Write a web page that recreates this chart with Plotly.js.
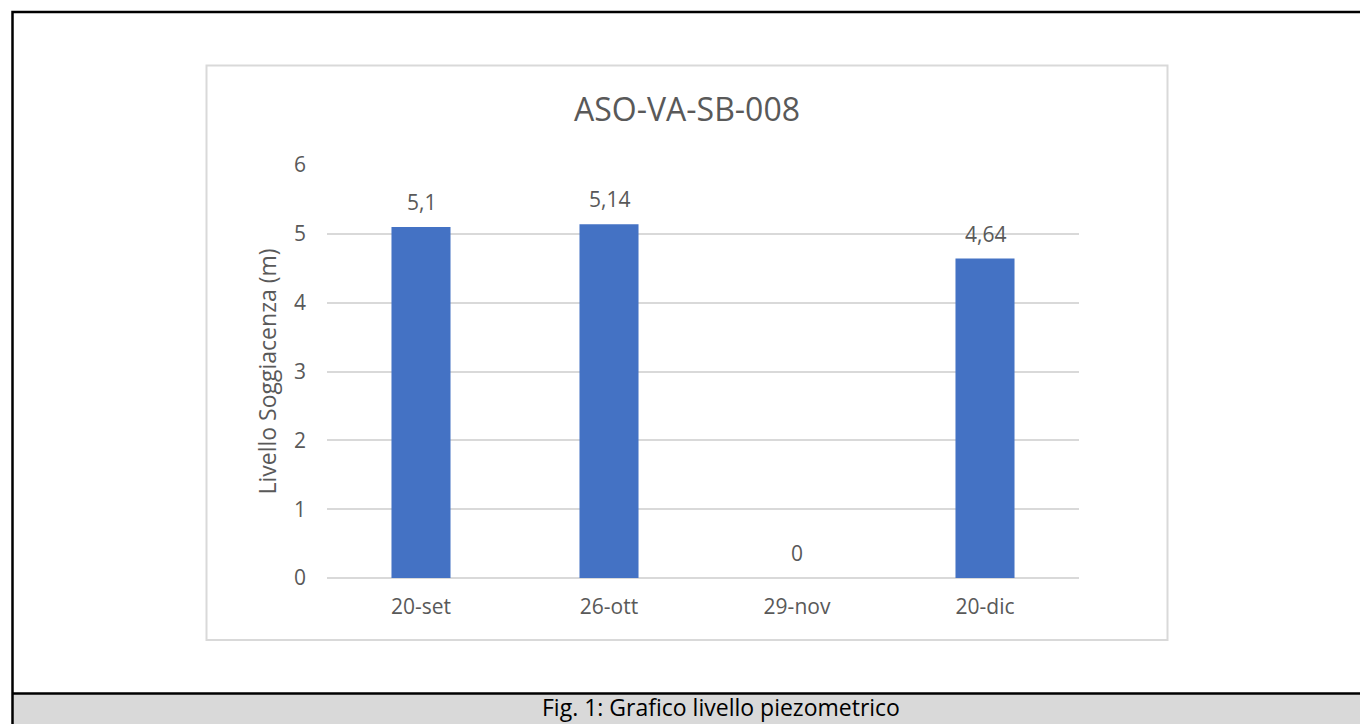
<!DOCTYPE html>
<html>
<head>
<meta charset="utf-8">
<script src="https://cdn.plot.ly/plotly-3.0.1.min.js"></script>
<style>
  html, body { margin: 0; padding: 0; background: #ffffff; }
  #chart { width: 1360px; height: 724px; }
</style>
</head>
<body>
<div id="chart"></div>
<script>
// ---- data ----
const categories = ["20-set", "26-ott", "29-nov", "20-dic"];
const livello = [5.1, 5.14, 0, 4.64];
const yTicks = [0, 1, 2, 3, 4, 5, 6];
const chartTitle = "ASO-VA-SB-008";
const yTitle = "Livello Soggiacenza (m)";
const caption = "Fig. 1: Grafico livello piezometrico";

// ---- layout geometry (pixels) ----
const W = 1360, H = 724;
const M = { l: 327, r: 281, t: 165, b: 146 };
const PW = W - M.l - M.r, PH = H - M.t - M.b;
const px = x => (x - M.l) / PW;
const py = y => (H - M.b - y) / PH;

const gray = "#595959";
const font = "Open Sans, Noto Sans, sans-serif";

const labels = livello.map(v => String(v).replace(".", ","));

const trace = {
  type: "bar",
  x: categories,
  y: livello,
  marker: { color: "#4472c4" },
  width: 0.314,
  hoverinfo: "x+y"
};

const annotations = categories.map((c, i) => ({
  x: c, y: livello[i], xref: "x", yref: "y",
  text: labels[i], showarrow: false,
  yanchor: "bottom", yshift: 9,
  font: { family: font, size: 21, color: gray }
}));

annotations.push({
  xref: "paper", yref: "paper",
  x: px(721), y: py(723.5), xanchor: "center", yanchor: "bottom",
  text: caption, showarrow: false, borderpad: 0,
  font: { family: font, size: 23, color: "#000000" }
});

const shapes = [
  // chart area box
  { type: "rect", xref: "paper", yref: "paper", layer: "below",
    x0: px(206.5), x1: px(1167.5), y0: py(65.5), y1: py(640),
    line: { color: "#d9d9d9", width: 2 }, fillcolor: "rgba(0,0,0,0)" },
  // caption band
  { type: "rect", xref: "paper", yref: "paper", layer: "below",
    x0: px(12), x1: px(1380), y0: py(693.5), y1: py(740),
    line: { width: 0 }, fillcolor: "#d9d9d9" },
  { type: "line", xref: "paper", yref: "paper",
    x0: px(12), x1: px(1380), y0: py(693.5), y1: py(693.5),
    line: { color: "#000000", width: 2.5 } },
  // outer frame (top + left visible)
  { type: "rect", xref: "paper", yref: "paper",
    x0: px(12.5), x1: px(1380), y0: py(12), y1: py(740),
    line: { color: "#000000", width: 2.5 }, fillcolor: "rgba(0,0,0,0)" }
];

const layout = {
  width: W, height: H,
  margin: M,
  paper_bgcolor: "#ffffff",
  plot_bgcolor: "#ffffff",
  showlegend: false,
  bargap: 0.686,
  font: { family: font, color: gray, size: 21 },
  title: {
    text: chartTitle,
    xref: "container", yref: "container",
    x: 687 / W, y: 1 - 110 / H, xanchor: "center", yanchor: "middle",
    font: { family: font, size: 32, color: gray }
  },
  xaxis: {
    type: "category",
    categoryorder: "array",
    categoryarray: categories,
    showgrid: false, zeroline: false,
    showline: false,
    ticks: "",
    ticklabelstandoff: 14,
    tickfont: { family: font, size: 21, color: gray },
    fixedrange: true
  },
  yaxis: {
    range: [0, 6],
    tickvals: yTicks,
    ticktext: yTicks.map(String),
    showgrid: true, gridcolor: "#d9d9d9", gridwidth: 2,
    zeroline: true, zerolinecolor: "#d9d9d9", zerolinewidth: 2,
    showline: false, ticks: "",
    ticklabelstandoff: 20,
    tickfont: { family: font, size: 21, color: gray },
    title: { text: yTitle, standoff: 10, font: { family: font, size: 23, color: gray } },
    automargin: false,
    fixedrange: true
  },
  annotations: annotations,
  shapes: shapes
};

Plotly.newPlot("chart", [trace], layout, { displayModeBar: false, staticPlot: true });
</script>
</body>
</html>
